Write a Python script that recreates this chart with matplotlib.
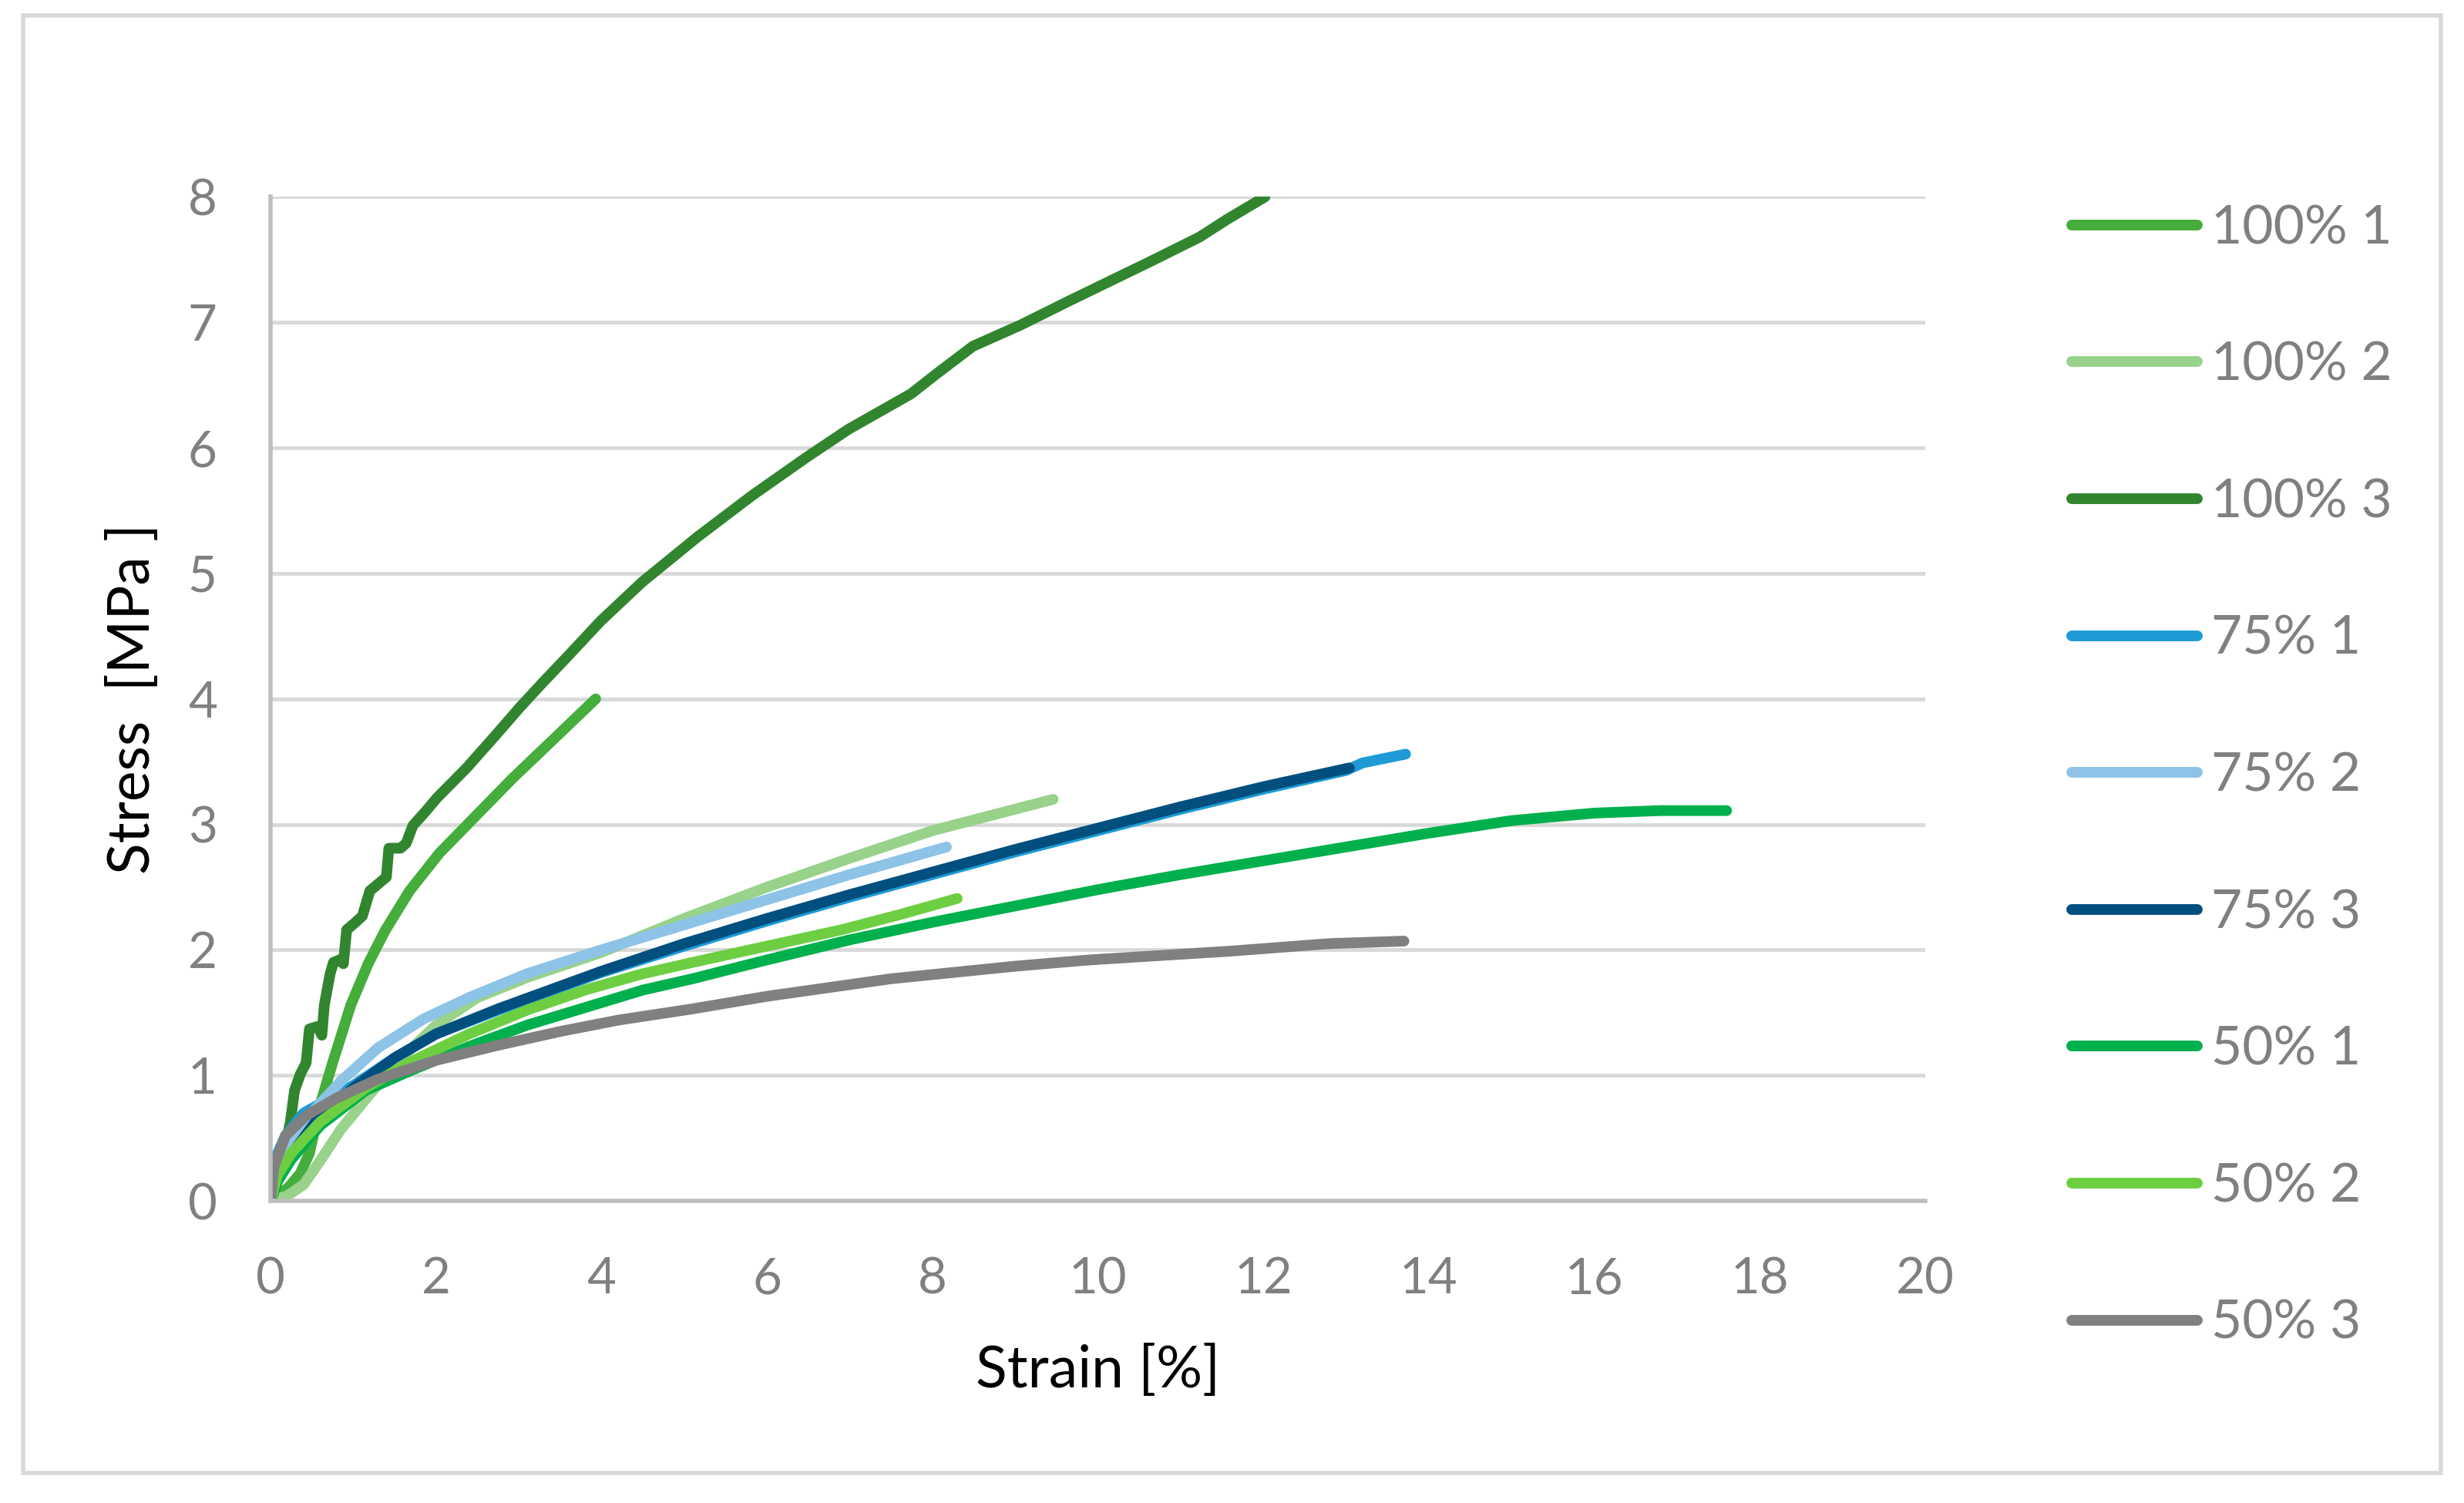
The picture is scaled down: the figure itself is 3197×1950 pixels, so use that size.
import matplotlib
matplotlib.use("Agg")
import matplotlib.pyplot as plt

plt.rcParams['font.family'] = ['Lato', 'DejaVu Sans']

## series values (strain %, stress MPa)
x_100_1 = [0, 0.22, 0.36, 0.47, 0.61, 0.75, 0.97, 1.18, 1.39, 1.68, 2.04, 2.47, 2.93, 3.36, 3.93]
y_100_1 = [0, 0.11, 0.22, 0.38, 0.79, 1.10, 1.56, 1.89, 2.16, 2.47, 2.77, 3.06, 3.37, 3.64, 4.00]

x_100_2 = [0, 0.2, 0.4, 0.6, 0.85, 1.2, 1.6, 2.0, 2.5, 3.1, 4.0, 5.0, 6.0, 7.0, 8.0, 9.46]
y_100_2 = [0, 0.04, 0.13, 0.32, 0.57, 0.85, 1.15, 1.40, 1.62, 1.78, 1.98, 2.25, 2.50, 2.73, 2.95, 3.20]

x_100_3 = [0, 0.14, 0.24, 0.29, 0.36, 0.43, 0.47, 0.57, 0.62, 0.65, 0.72, 0.76, 0.83, 0.88,
           0.92, 1.01, 1.11, 1.20, 1.29, 1.40, 1.43, 1.57, 1.64, 1.72, 1.87, 2.01, 2.37,
           2.72, 3.01, 3.29, 3.55, 3.99, 4.49, 5.16, 5.82, 6.49, 6.99, 7.74, 8.07, 8.49,
           9.07, 9.65, 10.65, 11.23, 11.56, 12.02]
y_100_3 = [0, 0.33, 0.63, 0.88, 1.01, 1.10, 1.37, 1.39, 1.32, 1.56, 1.81, 1.90, 1.92, 1.89,
           2.16, 2.21, 2.27, 2.47, 2.52, 2.58, 2.81, 2.81, 2.85, 2.99, 3.10, 3.21, 3.45,
           3.71, 3.93, 4.13, 4.31, 4.62, 4.93, 5.29, 5.62, 5.93, 6.15, 6.43, 6.60, 6.81,
           6.98, 7.17, 7.49, 7.68, 7.82, 8.00]

x_75_1 = [0, 0.18, 0.4, 1.0, 1.5, 2.0, 2.75, 3.5, 4.0, 5.0, 6.0, 7.0, 8.0, 9.0, 10.0,
          11.0, 12.0, 13.0, 13.2, 13.72]
y_75_1 = [0.25, 0.52, 0.70, 0.92, 1.14, 1.33, 1.52, 1.70, 1.82, 2.03, 2.23, 2.42, 2.60,
          2.78, 2.95, 3.12, 3.28, 3.43, 3.49, 3.56]

x_75_2 = [0, 0.1, 0.25, 0.55, 0.86, 1.3, 1.85, 2.4, 3.1, 4.0, 5.0, 6.0, 7.0, 8.17]
y_75_2 = [0.12, 0.30, 0.49, 0.74, 0.96, 1.22, 1.45, 1.62, 1.81, 2.00, 2.20, 2.40, 2.60, 2.82]

x_75_3 = [0, 0.1, 0.33, 0.6, 1.0, 1.5, 2.0, 2.75, 3.5, 4.0, 5.0, 6.0, 7.0, 8.0, 9.0,
          10.0, 11.0, 12.0, 13.04]
y_75_3 = [0, 0.19, 0.44, 0.68, 0.90, 1.14, 1.33, 1.53, 1.71, 1.83, 2.05, 2.25, 2.44, 2.62,
          2.80, 2.97, 3.14, 3.30, 3.45]

x_50_1 = [0, 0.08, 0.25, 0.6, 1.15, 1.7, 2.4, 3.1, 3.8, 4.5, 5.1, 6.0, 7.0, 8.0, 9.0, 10.0,
          11.0, 12.0, 13.0, 14.0, 15.0, 16.0, 16.8, 17.6]
y_50_1 = [0, 0.15, 0.33, 0.60, 0.88, 1.04, 1.23, 1.40, 1.54, 1.68, 1.77, 1.92, 2.08, 2.22,
          2.35, 2.48, 2.60, 2.71, 2.82, 2.93, 3.03, 3.09, 3.11, 3.11]

x_50_2 = [0, 0.08, 0.25, 0.6, 1.15, 1.7, 2.4, 3.1, 3.8, 4.5, 5.1, 6.0, 6.9, 7.6, 8.3]
y_50_2 = [0, 0.20, 0.38, 0.63, 0.90, 1.11, 1.33, 1.52, 1.68, 1.81, 1.90, 2.03, 2.16, 2.28, 2.41]

x_50_3 = [0, 0.04, 0.18, 0.43, 0.8, 1.3, 2.0, 2.75, 3.5, 4.2, 5.1, 6.0, 7.5, 9.0, 9.9,
          11.6, 12.8, 13.7]
y_50_3 = [0, 0.27, 0.52, 0.68, 0.82, 0.97, 1.12, 1.24, 1.35, 1.44, 1.53, 1.63, 1.77, 1.87, 1.92,
          1.99, 2.05, 2.07]

labels = ['100% 1', '100% 2', '100% 3', '75% 1', '75% 2', '75% 3', '50% 1', '50% 2', '50% 3']
colors = ['#44AD3C', '#98D28B', '#31852E', '#1E9BD7', '#8DC3E6', '#004F7E',
          '#00B04C', '#6DCE42', '#808080']
series = [(x_100_1, y_100_1), (x_100_2, y_100_2), (x_100_3, y_100_3),
          (x_75_1, y_75_1), (x_75_2, y_75_2), (x_75_3, y_75_3),
          (x_50_1, y_50_1), (x_50_2, y_50_2), (x_50_3, y_50_3)]

fig = plt.figure(figsize=(31.97, 19.5), dpi=100)
ax = fig.add_axes([0.1098, 0.201, 0.6715, 0.668])

for (xs, ys), lab, col in zip(series, labels, colors):
    ax.plot(xs, ys, color=col, lw=10, label=lab,
            solid_capstyle='round', solid_joinstyle='round')

ax.set_xlim(0, 20)
ax.set_ylim(0, 8)
ax.set_xticks(range(0, 21, 2))
ax.set_yticks(range(0, 9))
ax.grid(axis='y', color='#D9D9D9', lw=3.5)
ax.set_axisbelow(True)
for s in ['top', 'right']:
    ax.spines[s].set_visible(False)
for s in ['left', 'bottom']:
    ax.spines[s].set_color('#BFBFBF')
    ax.spines[s].set_linewidth(4)
ax.tick_params(length=0, labelsize=47, labelcolor='#808080')
ax.tick_params(axis='x', pad=52)
ax.tick_params(axis='y', pad=50)

ax.set_xlabel('Strain [%]', fontsize=54, va='center')
ax.xaxis.set_label_coords(0.5, -0.169)
ax.set_ylabel('Stress  [MPa ]', fontsize=54, va='center')
ax.yaxis.set_label_coords(-0.083, 0.5)

leg = fig.legend(loc='center left', bbox_to_anchor=(0.8408, 0.4836), frameon=False,
                 fontsize=50, handlelength=2.35, handletextpad=0.26, labelspacing=1.65,
                 borderpad=0, borderaxespad=0)
for t in leg.get_texts():
    t.set_color('#808080')

## outer chart border
fig.patches.append(plt.Rectangle((30 / 3197, 1 - 1911 / 1950), (3167 - 30) / 3197,
                                 (1911 - 20) / 1950, transform=fig.transFigure,
                                 fill=False, edgecolor='#D9D9D9', lw=4))

fig.savefig('out.png', dpi=100, facecolor='white')
